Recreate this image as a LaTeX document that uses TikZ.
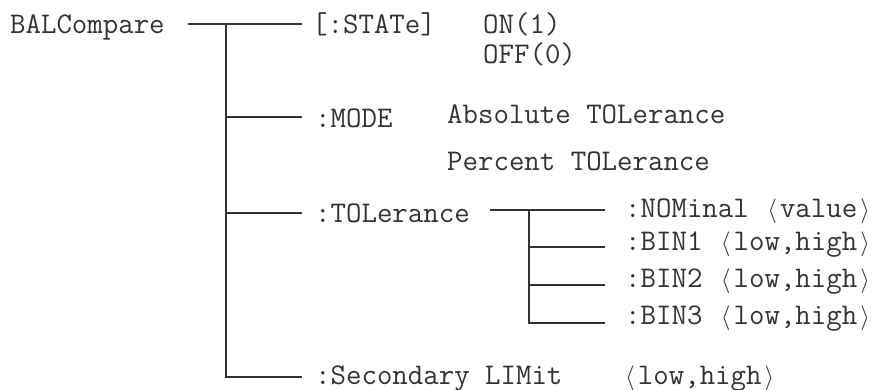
\documentclass[tikz,border=0pt]{standalone}
\usepackage{fontspec}
\newcommand{\langbr}{\makebox[0.525em]{$\langle$}}
\newcommand{\rangbr}{\makebox[0.525em]{$\rangle$}}
\begin{document}
\begin{tikzpicture}[x=1pt,y=-1pt,
  every node/.style={font=\fontsize{30}{32}\selectfont\ttfamily,text=black!80,anchor=base west,inner sep=0pt},
  tline/.style={line width=1.6pt,black!80}]
\useasboundingbox (0,0) rectangle (879,389);
% command names
\node (bal) at (10,33) {BALCompare};
\node (state) at (312,33) {[:STATe]};
\node (on) at (483,33) {ON(1)};
\node (off) at (483,63) {OFF(0)};
\node (mode) at (315,127) {:MODE};
\node (abs) at (447,123) {Absolute TOLerance};
\node (pct) at (447,170) {Percent TOLerance};
\node (tol) at (315,222) {:TOLerance};
\node (nom) at (625,217) {:NOMinal \langbr value\rangbr};
\node (bin1) at (625,250) {:BIN1 \langbr low,high\rangbr};
\node (bin2) at (625,287) {:BIN2 \langbr low,high\rangbr};
\node (bin3) at (625,324) {:BIN3 \langbr low,high\rangbr};
\node (sec) at (315,384) {:Secondary LIMit};
\node (seclim) at (622,384) {\langbr low,high\rangbr};
% main tree
\coordinate (r0) at (188,24);
\coordinate (r1) at (302,24);
\coordinate (t0) at (226,24);
\coordinate (e2) at (302,117);
\coordinate (e3) at (302,213);
\coordinate (e4) at (302,377);
\draw[tline] (r0) -- (r1);
\draw[tline] (t0) |- (e4);
\draw[tline] (t0 |- e2) -- (e2);
\draw[tline] (t0 |- e3) -- (e3);
% tolerance subtree
\coordinate (s0) at (490,210);
\coordinate (s1) at (605,210);
\coordinate (u0) at (529,210);
\coordinate (b1) at (605,247);
\coordinate (b2) at (605,285);
\coordinate (b3) at (605,323);
\draw[tline] (s0) -- (s1);
\draw[tline] (u0) |- (b3);
\draw[tline] (u0 |- b1) -- (b1);
\draw[tline] (u0 |- b2) -- (b2);
\end{tikzpicture}
\end{document}
